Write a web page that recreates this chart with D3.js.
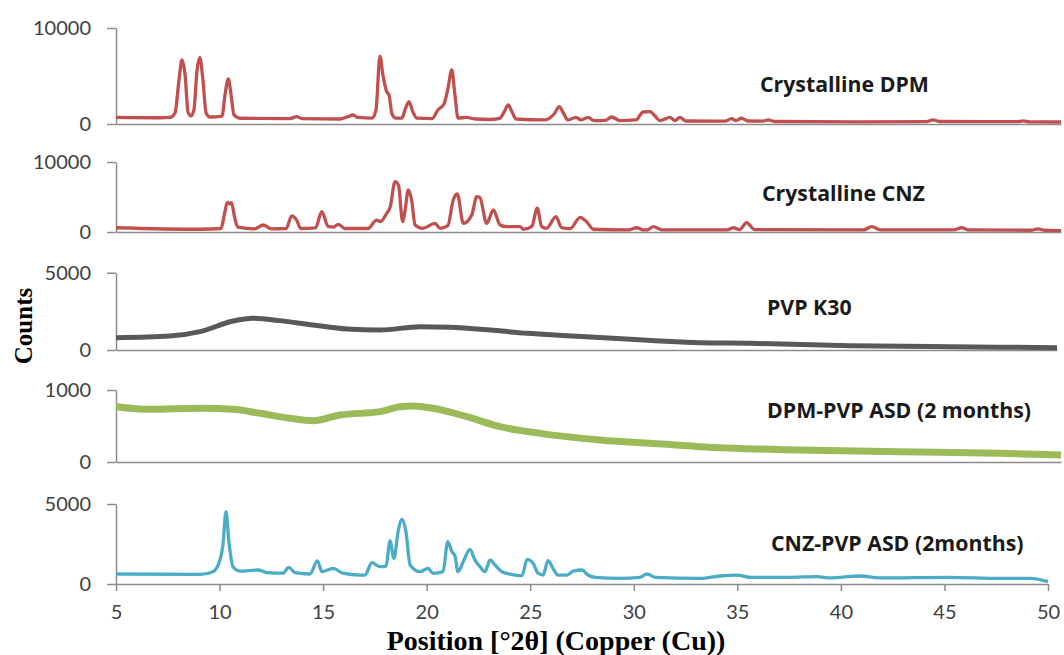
<!DOCTYPE html>
<html>
<head>
<meta charset="utf-8">
<script src="https://cdn.jsdelivr.net/npm/d3@7"></script>
<style>
  body { margin: 0; background: #fff; }
  .tick text { font-family: Lato, "Open Sans", sans-serif; font-size: 20px; fill: #404040; }
  .panel-label { font-family: "Open Sans", Lato, sans-serif; font-weight: bold; font-size: 21.3px; fill: #1a1a1a; }
  .axis-title { font-family: "Liberation Serif", "DejaVu Serif", serif; font-weight: bold; fill: #000; }
</style>
</head>
<body>
<svg></svg>
<script>
// [2theta, counts]
const dpm = [[5,700],[7.1,650],[7.57,680],[7.81,1150],[8.0,4580],[8.14,6670],[8.29,5100],[8.43,1250],[8.57,830],
  [8.71,1460],[8.86,5630],[8.99,6950],[9.14,4580],[9.29,1150],[9.48,730],[10.05,830],[10.19,3020],[10.35,4690],
  [10.48,3020],[10.62,940],[10.9,600],[13.29,570],[13.6,760],[13.86,570],[15.67,520],[16.0,730],[16.29,940],
  [16.52,680],[17.19,620],[17.38,1460],[17.57,7080],[17.71,5100],[17.89,3370],[18.0,3020],[18.14,1040],[18.33,620],
  [18.62,620],[18.76,1460],[18.95,2320],[19.14,1250],[19.33,620],[20.05,570],[20.33,1460],[20.62,2080],[20.81,3750],
  [20.99,5625],[21.14,3020],[21.29,620],[21.7,680],[22.1,520],[22.81,470],[23.29,620],[23.48,1250],[23.68,1980],
  [23.86,1250],[24.05,520],[25.43,420],[25.86,1040],[26.11,1800],[26.33,1040],[26.52,420],[26.9,700],[27.14,420],
  [27.48,700],[27.76,360],[28.3,380],[28.6,730],[29.0,360],[29.76,420],[30.1,1250],[30.43,1280],[30.67,830],[30.9,360],
  [31.38,680],[31.62,360],[31.86,680],[32.14,310],[34.0,300],[34.32,570],[34.52,360],[34.79,600],[35.1,310],[35.8,300],
  [36.05,420],[36.38,260],[40.5,230],[43.6,240],[43.9,420],[44.24,260],[46.7,240],[47.9,240],[48.2,330],[48.5,230],
  [50,210]];

const cnz = [[5,610],[9,390],[10.0,500],[10.18,2800],[10.3,4240],[10.42,4000],[10.5,4200],[10.64,2200],[10.8,700],
  [11.6,450],[12.01,1000],[12.4,450],[13.1,500],[13.37,2290],[13.6,1700],[13.8,500],[14.5,600],[14.8,2900],
  [15.1,800],[15.35,700],[15.59,1100],[15.9,500],[17.0,500],[17.41,1710],[17.6,1500],[17.89,2670],[18.05,3500],
  [18.29,7190],[18.45,6710],[18.65,1470],[18.75,2800],[18.92,6000],[19.08,4500],[19.24,1000],[19.6,530],[20.19,1240],
  [20.43,530],[20.8,900],[21.06,4570],[21.25,5430],[21.54,1240],[21.94,2430],[22.18,5050],[22.33,4900],[22.65,1240],
  [22.97,3140],[23.29,1000],[23.6,760],[24.24,760],[24.4,390],[24.8,800],[25.06,3390],[25.27,760],[25.5,530],
  [25.95,2190],[26.22,610],[26.62,470],[27.1,2100],[27.41,1470],[27.73,390],[29.4,300],[29.8,610],[30.1,300],
  [30.3,300],[30.59,760],[31.0,300],[34.1,300],[34.4,610],[34.7,350],[35.03,1330],[35.4,350],[40.6,300],[40.99,760],
  [41.4,300],[44.9,300],[45.27,610],[45.6,300],[48.6,250],[48.9,450],[49.2,250],[50,190]];

const pvp = [[5,800],[7.58,905],[9.02,1185],[10.6,1875],[11.55,2050],[12.84,1900],[14.42,1620],[16.05,1360],
  [17.63,1290],[19.54,1510],[20.97,1470],[22.89,1290],[24.66,1080],[26.57,925],[28.77,757],[31.02,582],
  [32.93,472],[35.32,433],[40.1,280],[44.88,215],[50,150]];

const dpmPvp = [[5,768],[6.62,732],[9,746],[10.57,732],[11.86,676],[13.29,607],[14.38,574],[15.67,653],
  [17.57,699],[18.52,768],[19.14,778],[20.1,746],[21.71,629],[23.29,490],[25.19,398],[28.05,306],[31.24,245],
  [32.81,212],[37.57,167],[42.33,143],[47.1,121],[50,97]];

const cnzPvp = [[5,625],[9.06,600],[9.68,770],[10.02,1500],[10.17,2540],[10.31,4520],[10.46,2540],[10.65,1080],
  [10.99,810],[11.86,875],[12.29,708],[13.06,675],[13.34,1040],[13.64,708],[14.37,625],[14.72,1440],[14.95,770],
  [15.48,979],[15.96,675],[16.78,560],[17.02,560],[17.36,1330],[17.75,1080],[18.04,1120],[18.23,2690],[18.42,1600],
  [18.62,3270],[18.81,4040],[19.0,3270],[19.2,1190],[19.68,770],[20.07,980],[20.31,670],[20.79,770],[21.02,2650],
  [21.22,2020],[21.37,1750],[21.51,770],[21.8,1500],[22.09,2170],[22.33,1500],[22.58,1080],[22.82,770],[23.06,1500],
  [23.3,1190],[23.64,770],[24.27,560],[24.6,520],[24.85,1540],[25.14,1290],[25.38,675],[25.62,560],[25.86,1460],
  [26.1,980],[26.34,560],[26.78,560],[27.07,810],[27.5,875],[27.79,560],[28.13,420],[29.34,350],[30.3,420],
  [30.64,625],[31.03,420],[33.2,350],[34.16,500],[34.98,560],[35.61,420],[37.54,420],[38.85,460],[39.48,380],
  [40.92,500],[41.89,380],[45.13,420],[47.69,350],[49.13,350],[50,145]];

const xTicks = [5, 10, 15, 20, 25, 30, 35, 40, 45, 50];

const panels = [
  { data: dpm, name: "Crystalline DPM", max: 10000, top: 28, bottom: 124, right: 1061, color: "#C0504D", w: 3.3, lx: 760, ly: 92 },
  { data: cnz, name: "Crystalline CNZ", max: 10000, top: 162, bottom: 232, right: 1061, color: "#C0504D", w: 3.3, lx: 762, ly: 201 },
  { data: pvp, name: "PVP K30", max: 5000, top: 272.7, bottom: 350, right: 1057, color: "#595959", w: 5, lx: 767, ly: 315 },
  { data: dpmPvp, name: "DPM-PVP ASD (2 months)", max: 1000, top: 390, bottom: 462, right: 1061, color: "#9BBB59", w: 7, lx: 767, ly: 418 },
  { data: cnzPvp, name: "CNZ-PVP ASD (2months)", max: 5000, top: 504, bottom: 584, right: 1048, color: "#4BACC6", w: 3.3, lx: 771, ly: 551 }
];

const svg = d3.select("svg").attr("width", 1064).attr("height", 655);

panels.forEach((p, i) => {
  const x = d3.scaleLinear().domain([5, 50]).range([116, p.right]);
  const y = d3.scaleLinear().domain([0, p.max]).range([p.bottom, p.top]);
  const last = i === panels.length - 1;

  const yAxis = svg.append("g")
    .attr("transform", "translate(116,0)")
    .call(d3.axisLeft(y).tickValues([0, p.max]).tickSize(9).tickPadding(16).tickSizeOuter(0).tickFormat(d3.format("d")));

  const xAxis = svg.append("g")
    .attr("transform", `translate(0,${p.bottom})`)
    .call(d3.axisBottom(x).tickValues(last ? xTicks : []).tickSize(7).tickPadding(14).tickSizeOuter(0));

  [yAxis, xAxis].forEach(a => {
    a.select(".domain").attr("stroke", "#8c8c8c").attr("stroke-width", 1.5);
    a.selectAll(".tick line").attr("stroke", "#8c8c8c").attr("stroke-width", 1.5);
  });

  svg.append("path")
    .datum(p.data)
    .attr("fill", "none")
    .attr("stroke", p.color)
    .attr("stroke-width", p.w)
    .attr("stroke-linejoin", "round")
    .attr("d", d3.line().x(d => x(d[0])).y(d => y(d[1])).curve(d3.curveMonotoneX));

  svg.append("text")
    .attr("class", "panel-label")
    .attr("x", p.lx)
    .attr("y", p.ly)
    .text(p.name);
});

svg.append("text")
  .attr("class", "axis-title")
  .attr("transform", "translate(32,326) rotate(-90)")
  .style("text-anchor", "middle")
  .style("font-size", "25px")
  .text("Counts");

svg.append("text")
  .attr("class", "axis-title")
  .attr("x", 556)
  .attr("y", 650)
  .style("text-anchor", "middle")
  .style("font-size", "28px")
  .text("Position [°2θ] (Copper (Cu))");
</script>
</body>
</html>
